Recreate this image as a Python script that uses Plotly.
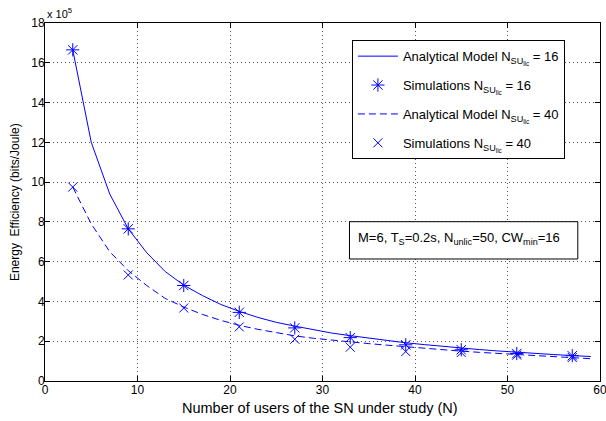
import plotly.graph_objects as go

# Number of users N
n_model = [3, 5, 7, 9, 11, 13, 15, 17, 19, 21, 23, 25, 27, 29, 31, 33, 35, 37, 39,
           41, 43, 45, 47, 49, 51, 53, 55, 57, 59]
# Energy efficiency (x 10^5 bits/Joule)
model_16 = [16.65, 12.0, 9.4, 7.65, 6.45, 5.5, 4.82, 4.3, 3.85, 3.5, 3.2, 2.95, 2.76,
            2.57, 2.41, 2.28, 2.15, 2.03, 1.92, 1.83, 1.74, 1.65, 1.58, 1.51, 1.44,
            1.38, 1.33, 1.28, 1.23]
model_40 = [9.75, 7.9, 6.5, 5.55, 4.8, 4.15, 3.72, 3.35, 3.05, 2.8, 2.6, 2.42, 2.27,
            2.15, 2.05, 1.96, 1.88, 1.8, 1.72, 1.64, 1.57, 1.5, 1.44, 1.39, 1.33,
            1.27, 1.22, 1.17, 1.12]
n_sim = [3, 9, 15, 21, 27, 33, 39, 45, 51, 57]
sim_16 = [16.65, 7.65, 4.8, 3.45, 2.67, 2.18, 1.82, 1.57, 1.38, 1.27]
sim_40 = [9.75, 5.33, 3.67, 2.72, 2.1, 1.7, 1.48, 1.43, 1.3, 1.18]

x_ticks = [0, 10, 20, 30, 40, 50, 60]
y_ticks = [0, 2, 4, 6, 8, 10, 12, 14, 16, 18]

BLUE = "#0000FF"
FONT = "Liberation Sans, Arial, Helvetica, sans-serif"
SUB = "N<sub>SU<sub>lic</sub></sub>"

fig = go.Figure()
fig.add_trace(go.Scatter(x=n_model, y=model_16, mode="lines",
                         line=dict(color=BLUE, width=1),
                         name="Analytical Model " + SUB + " = 16", legendgroup="a"))
fig.add_trace(go.Scatter(x=n_sim, y=sim_16, mode="markers",
                         marker=dict(symbol="asterisk-open", size=11, color=BLUE,
                                     line=dict(color=BLUE, width=1)),
                         name="Simulations " + SUB + " = 16", legendgroup="b"))
fig.add_trace(go.Scatter(x=n_model, y=model_40, mode="lines",
                         line=dict(color=BLUE, width=1, dash="7px,4px"),
                         name="Analytical Model " + SUB + " = 40", legendgroup="c"))
fig.add_trace(go.Scatter(x=n_sim, y=sim_40, mode="markers",
                         marker=dict(symbol="x-thin-open", size=9, color=BLUE,
                                     line=dict(color=BLUE, width=1)),
                         name="Simulations " + SUB + " = 40", legendgroup="d"))

axis_common = dict(showline=True, linecolor="black", linewidth=1, mirror="ticks",
                   ticks="inside", ticklen=5, tickcolor="black", automargin=False,
                   showgrid=True, gridcolor="#555555", griddash="1px,3px", gridwidth=1,
                   zeroline=False, tickfont=dict(family=FONT, size=12, color="black"),
                   ticklabeloverflow="allow")

fig.update_xaxes(range=[0, 60], tickvals=x_ticks, ticklabelstandoff=-2, **axis_common)
fig.update_yaxes(range=[0, 18], tickvals=y_ticks, ticklabelstandoff=-3, **axis_common)

# axis titles
fig.add_annotation(xref="paper", yref="paper", x=0.496, y=-0.075, xanchor="center",
                   yanchor="middle", showarrow=False,
                   text="Number of users of the SN under study (N)",
                   font=dict(family=FONT, size=14.5, color="black"))
fig.add_annotation(xref="paper", yref="paper", x=-0.055, y=0.501, xanchor="center",
                   yanchor="middle", showarrow=False, textangle=-90,
                   text="Energy  Efficiency (bits/Joule)",
                   font=dict(family=FONT, size=12, color="black"))

fig.add_annotation(xref="paper", yref="paper", x=0, y=1.0, xanchor="left", yanchor="bottom",
                   text="x 10<sup>5</sup>", showarrow=False, yshift=1,
                   font=dict(family=FONT, size=11, color="black"))

fig.add_shape(type="rect", xref="paper", yref="paper", x0=0.5486, x1=0.960,
              y0=0.3408, y1=0.445, line=dict(color="black", width=1),
              fillcolor="white", layer="above")
fig.add_annotation(xref="paper", yref="paper", x=0.746, y=0.398, xanchor="center",
                   yanchor="middle", showarrow=False,
                   text="M=6, T<sub>S</sub>=0.2s, N<sub>unlic</sub>=50, CW<sub>min</sub>=16",
                   font=dict(family=FONT, size=13, color="black"))

fig.update_layout(
    width=606, height=421,
    margin=dict(l=45, r=6, t=23, b=40),
    paper_bgcolor="white", plot_bgcolor="white",
    showlegend=True,
    legend=dict(x=0.553, y=0.952, xanchor="left", yanchor="top",
                bgcolor="white", bordercolor="black", borderwidth=1,
                font=dict(family=FONT, size=13, color="black"),
                tracegroupgap=9, itemwidth=40),
)

fig.write_html("out.html", config={"displayModeBar": False},
               post_script="document.body.style.margin='0';document.body.style.padding='0';")
